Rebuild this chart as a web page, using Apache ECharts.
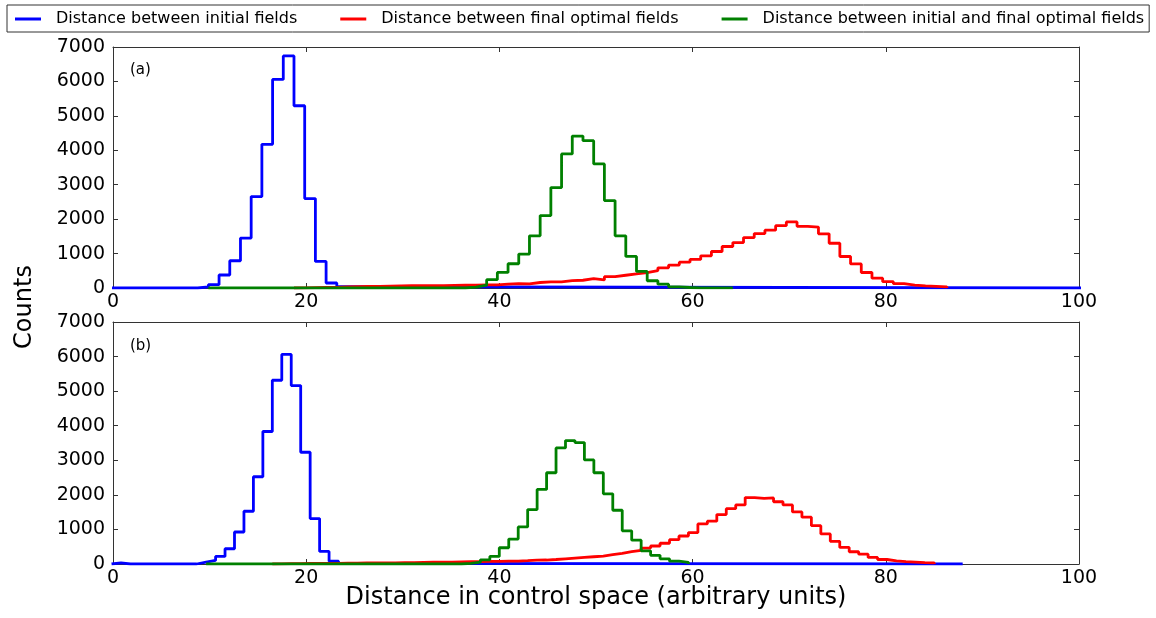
<!DOCTYPE html>
<html><head><meta charset="utf-8">
<script src="https://cdn.jsdelivr.net/npm/echarts@6/dist/echarts.min.js"></script>
<style>html,body{margin:0;padding:0;background:#fff}#c{width:1156px;height:618px}</style>
</head><body><div id="c"></div><script>
// ---------- data ----------
const seriesNames = ['Distance between initial fields', 'Distance between final optimal fields', 'Distance between initial and final optimal fields'];
const panelLabels = ['(a)', '(b)'];
const xTitle = 'Distance in control space (arbitrary units)';
const yTitle = 'Counts';

// histogram bins: edge k = offset + k * width
const binsA = { offset: -0.1, width: 1.108 };
const binsB = { offset: -0.15, width: 0.979 };

// panel (a): [first edge index, last edge index] of each histogram, first non-trivial bin, counts
const blueA_range = [0, 91];
const blueA_start = 8;
const blueA = [30, 96, 377, 791, 1449, 2655, 4174, 6058, 6742, 5293, 2597, 771, 145, 40];

const redA_range = [17, 78];
const redA_start = 17;
const redA = [5, 10, 15, 20, 30, 40, 45, 50, 55, 60, 65, 65, 70, 70, 75, 80, 85, 90,
  90, 110, 130, 120, 160, 180, 180, 215, 225, 270, 235, 330, 370, 410, 450, 505, 585, 665,
  750, 830, 935, 1060, 1205, 1320, 1465, 1580, 1680, 1810, 1920, 1790, 1770, 1575, 1300,
  915, 700, 450, 285, 185, 125, 85, 60, 45, 30];

const greenA_range = [9, 58];
const greenA_start = 33;
const greenA = [25, 80, 241, 453, 704, 985, 1516, 2104, 2916, 3893, 4414, 4278, 3603, 2540,
  1516, 916, 481, 210, 110, 30, 15, 5, 5, 5, 5];

// panel (b)
const blueB_range = [0, 90];
const blueB_start = 0;
const blueB = [35, 0, 0, 0, 0, 0, 0, 0, 0, 53, 102, 218, 441, 925, 1526, 2524, 3832, 5315,
  6061, 5160, 3232, 1313, 363, 82, 20];

const redB_range = [17, 87];
const redB_start = 17;
const redB = [5, 10, 10, 15, 15, 20, 20, 25, 25, 30, 30, 35, 35, 40, 40, 45, 50, 50, 55, 60, 65, 70,
  75, 75, 85, 85, 95, 110, 115, 130, 150, 170, 190, 210, 230, 270, 305, 355, 395, 460, 520,
  600, 705, 810, 910, 1160, 1240, 1430, 1600, 1710, 1920, 1900, 1910, 1800, 1710, 1505, 1355,
  1110, 870, 655, 480, 355, 285, 190, 130, 90, 70, 55, 40, 30];

const greenB_range = [10, 61];
const greenB_start = 37;
const greenB = [20, 53, 121, 218, 470, 722, 1071, 1575, 2156, 2640, 3358, 3571, 3513, 3009,
  2640, 2030, 1555, 960, 690, 380, 250, 150, 82, 50];

// ---------- chart ----------
function hist(bins, range, start, counts) {
  const e = k => +(bins.offset + k * bins.width).toFixed(3);
  const pts = [[e(range[0]), 0]];
  counts.forEach((c, i) => pts.push([e(start + i), c]));
  pts.push([e(start + counts.length), 0]);
  pts.push([e(range[1]), 0]);
  return pts;
}
const colors = ['#0000ff', '#ff0000', '#008000'];
const FONT = 'DejaVu Sans';
const axisLineStyle = { color: '#333', width: 1 };

function xAx(grid, pos, labels) {
  return {
    type: 'value', gridIndex: grid, position: pos, min: 0, max: 100, interval: 20,
    axisLine: { show: true, onZero: false, lineStyle: axisLineStyle },
    axisTick: { show: true, inside: true, length: 5, lineStyle: axisLineStyle },
    axisLabel: { show: labels, color: '#000', fontFamily: FONT, fontSize: 19, margin: 5,
      formatter: v => String(v) },
    splitLine: { show: false }
  };
}
function yAx(grid, pos, labels) {
  return {
    type: 'value', gridIndex: grid, position: pos, min: 0, max: 7000, interval: 1000,
    axisLine: { show: true, onZero: false, lineStyle: axisLineStyle },
    axisTick: { show: true, inside: true, length: 5, lineStyle: axisLineStyle },
    axisLabel: { show: labels, color: '#000', fontFamily: FONT, fontSize: 19, margin: 8,
      formatter: v => String(v) },
    splitLine: { show: false }
  };
}
function line(name, color, xi, yi, data) {
  return {
    name, type: 'line', step: 'end', data, xAxisIndex: xi, yAxisIndex: yi,
    showSymbol: false, symbol: 'none', clip: true, animation: false,
    lineStyle: { color, width: 2.8 }, itemStyle: { color }
  };
}

const chart = echarts.init(document.getElementById('c'), null, { renderer: 'canvas' });
chart.setOption({
  animation: false,
  backgroundColor: '#fff',
  grid: [
    { left: 113, right: 77, top: 47, height: 241 },
    { left: 113, right: 77, top: 322, height: 242 }
  ],
  xAxis: [xAx(0, 'bottom', true), xAx(0, 'top', false), xAx(1, 'bottom', true), xAx(1, 'top', false)],
  yAxis: [yAx(0, 'left', true), yAx(0, 'right', false), yAx(1, 'left', true), yAx(1, 'right', false)],
  legend: {
    data: seriesNames, left: 7, top: 5, orient: 'horizontal', width: 1136,
    icon: 'rect', itemWidth: 26, itemHeight: 3, itemGap: 43,
    padding: [6, 5, 5, 8], borderColor: '#333', borderWidth: 1,
    textStyle: { fontFamily: FONT, fontSize: 16, color: '#000', padding: [0, 0, 0, 10] }
  },
  graphic: [
    { type: 'text', left: 130, top: 63, style: { text: panelLabels[0], font: '15px "DejaVu Sans"', fill: '#000' } },
    { type: 'text', left: 130, top: 339, style: { text: panelLabels[1], font: '15px "DejaVu Sans"', fill: '#000' } },
    { type: 'text', x: 25, y: 307, rotation: Math.PI / 2,
      style: { text: yTitle, font: '24px "DejaVu Sans"', fill: '#000', align: 'center', verticalAlign: 'middle' } },
    { type: 'text', x: 596, y: 598,
      style: { text: xTitle, font: '24px "DejaVu Sans"', fill: '#000', align: 'center', verticalAlign: 'middle' } }
  ],
  series: [
    line(seriesNames[0], colors[0], 0, 0, hist(binsA, blueA_range, blueA_start, blueA)),
    line(seriesNames[1], colors[1], 0, 0, hist(binsA, redA_range, redA_start, redA)),
    line(seriesNames[2], colors[2], 0, 0, hist(binsA, greenA_range, greenA_start, greenA)),
    line(seriesNames[0], colors[0], 2, 2, hist(binsB, blueB_range, blueB_start, blueB)),
    line(seriesNames[1], colors[1], 2, 2, hist(binsB, redB_range, redB_start, redB)),
    line(seriesNames[2], colors[2], 2, 2, hist(binsB, greenB_range, greenB_start, greenB))
  ]
});
</script></body></html>
